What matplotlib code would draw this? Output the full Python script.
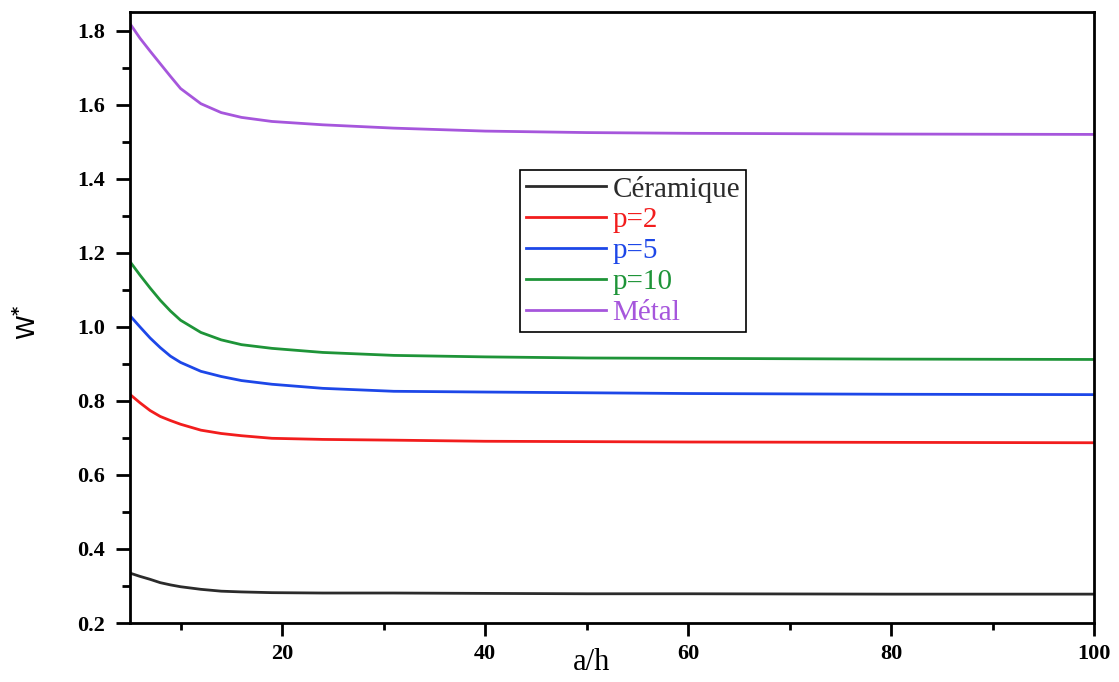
import matplotlib
matplotlib.use("Agg")
import matplotlib.pyplot as plt
from matplotlib.ticker import MultipleLocator

x_vals = [5, 6, 7, 8, 9, 10, 12, 14, 16, 19, 24, 31, 40, 50, 60, 80, 100]
ceramique = [0.335, 0.326, 0.318, 0.309, 0.303, 0.298, 0.291, 0.286, 0.284, 0.282, 0.281, 0.281, 0.280, 0.279, 0.279, 0.278, 0.278]
p2 = [0.818, 0.795, 0.774, 0.758, 0.747, 0.737, 0.721, 0.712, 0.706, 0.699, 0.696, 0.694, 0.691, 0.690, 0.689, 0.688, 0.687]
p5 = [1.031, 1.000, 0.970, 0.944, 0.921, 0.904, 0.880, 0.866, 0.855, 0.845, 0.834, 0.826, 0.824, 0.822, 0.820, 0.818, 0.817]
p10 = [1.177, 1.140, 1.105, 1.072, 1.043, 1.018, 0.985, 0.965, 0.952, 0.942, 0.931, 0.923, 0.919, 0.916, 0.915, 0.913, 0.912]
metal = [1.820, 1.780, 1.745, 1.711, 1.677, 1.644, 1.603, 1.579, 1.566, 1.555, 1.546, 1.537, 1.529, 1.525, 1.523, 1.521, 1.520]

labels = ["Céramique", "p=2", "p=5", "p=10", "Métal"]
colors = ["#2b2b2b", "#f21d1d", "#1d47e8", "#1e9438", "#a656dc"]
series = [ceramique, p2, p5, p10, metal]

fig = plt.figure(figsize=(11.19, 6.82), dpi=100)
ax = fig.add_axes([0.116, 0.0865, 0.862, 0.8955])

for ys, lab, c in zip(series, labels, colors):
    ax.plot(x_vals, ys, color=c, lw=2, label=lab)

ax.set_xlim(5, 100)
ax.set_ylim(0.2, 1.85)
ax.xaxis.set_major_locator(MultipleLocator(20))
ax.xaxis.set_minor_locator(MultipleLocator(10))
ax.yaxis.set_major_locator(MultipleLocator(0.2))
ax.yaxis.set_minor_locator(MultipleLocator(0.1))
ax.tick_params(axis="y", which="major", direction="out", length=10, width=2, pad=8)
ax.tick_params(axis="y", which="minor", direction="out", length=6, width=2)
ax.tick_params(axis="x", which="major", direction="out", length=9, width=2, pad=6)
ax.tick_params(axis="x", which="minor", direction="out", length=5, width=2)
for s in ax.spines.values():
    s.set_linewidth(2)

for lab in ax.get_xticklabels() + ax.get_yticklabels():
    lab.set_fontfamily("Liberation Serif")
    lab.set_fontweight("bold")
    lab.set_fontsize(16)

fig.text(592 / 1119, 1 - 662 / 682, "a/h", fontfamily="Liberation Serif",
         fontsize=22, ha="center", va="center")
fig.text(28 / 1119, 1 - 322 / 682, r"W$^{\mathbf{*}}$", fontfamily="DejaVu Sans",
         fontsize=18, ha="center", va="center", rotation=90)

leg = ax.legend(loc="upper left", bbox_to_anchor=(0.405, 0.742), frameon=True,
                fancybox=False, edgecolor="black", framealpha=1,
                prop={"family": "Liberation Serif", "size": 21},
                handlelength=2.75, handletextpad=0.2, borderpad=0.2,
                labelspacing=0.15, borderaxespad=0)
leg.get_frame().set_linewidth(1.2)
for t, c in zip(leg.get_texts(), colors):
    t.set_color(c)

fig.savefig("out.png", dpi=100)
